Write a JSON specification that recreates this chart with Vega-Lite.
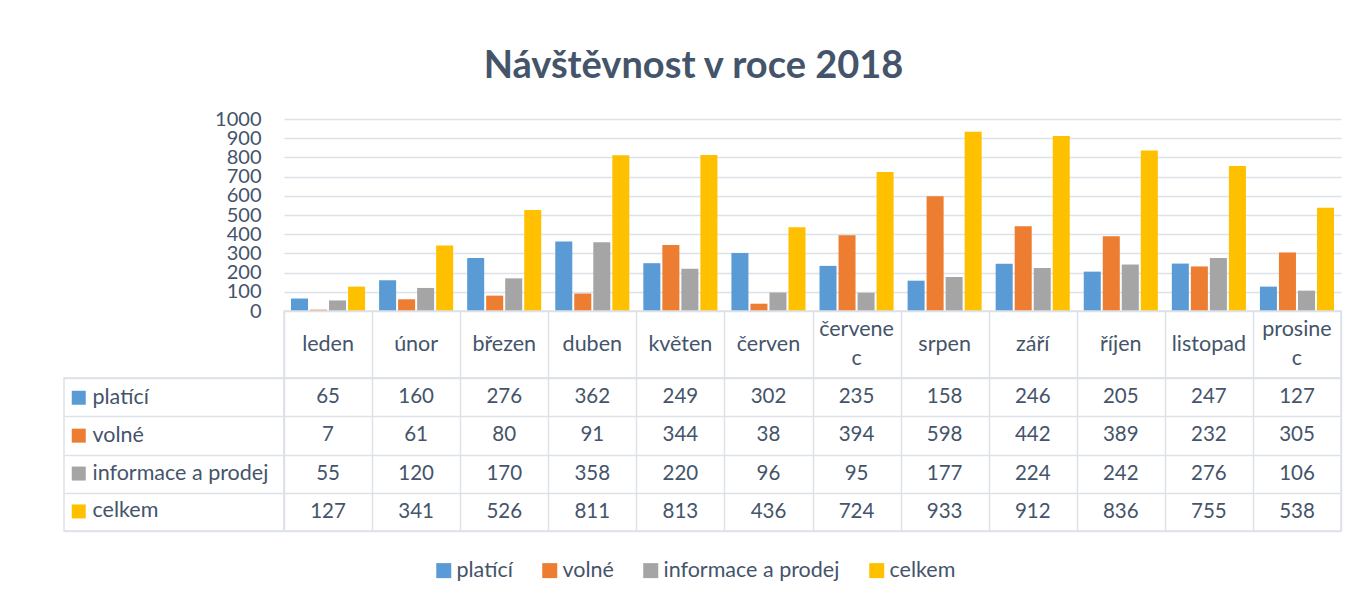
{
  "$schema": "https://vega.github.io/schema/vega-lite/v6.json",
  "padding": {"left": 63, "top": 48, "right": 16, "bottom": 12},
  "title": {"text": "Návštěvnost v roce 2018", "font": "Lato", "fontSize": 38, "fontWeight": "bold", "color": "#44546a", "anchor": "middle", "offset": 23, "dx": -9},
  "config": {"view": {"stroke": null}, "font": "Lato", "text": {"font": "Lato"}},
  "datasets": {
    "bars": [
      {"month": "leden", "series": "platící", "value": 65},
      {"month": "únor", "series": "platící", "value": 160},
      {"month": "březen", "series": "platící", "value": 276},
      {"month": "duben", "series": "platící", "value": 362},
      {"month": "květen", "series": "platící", "value": 249},
      {"month": "červen", "series": "platící", "value": 302},
      {"month": "červenec", "series": "platící", "value": 235},
      {"month": "srpen", "series": "platící", "value": 158},
      {"month": "září", "series": "platící", "value": 246},
      {"month": "říjen", "series": "platící", "value": 205},
      {"month": "listopad", "series": "platící", "value": 247},
      {"month": "prosinec", "series": "platící", "value": 127},
      {"month": "leden", "series": "volné", "value": 7},
      {"month": "únor", "series": "volné", "value": 61},
      {"month": "březen", "series": "volné", "value": 80},
      {"month": "duben", "series": "volné", "value": 91},
      {"month": "květen", "series": "volné", "value": 344},
      {"month": "červen", "series": "volné", "value": 38},
      {"month": "červenec", "series": "volné", "value": 394},
      {"month": "srpen", "series": "volné", "value": 598},
      {"month": "září", "series": "volné", "value": 442},
      {"month": "říjen", "series": "volné", "value": 389},
      {"month": "listopad", "series": "volné", "value": 232},
      {"month": "prosinec", "series": "volné", "value": 305},
      {"month": "leden", "series": "informace a prodej", "value": 55},
      {"month": "únor", "series": "informace a prodej", "value": 120},
      {"month": "březen", "series": "informace a prodej", "value": 170},
      {"month": "duben", "series": "informace a prodej", "value": 358},
      {"month": "květen", "series": "informace a prodej", "value": 220},
      {"month": "červen", "series": "informace a prodej", "value": 96},
      {"month": "červenec", "series": "informace a prodej", "value": 95},
      {"month": "srpen", "series": "informace a prodej", "value": 177},
      {"month": "září", "series": "informace a prodej", "value": 224},
      {"month": "říjen", "series": "informace a prodej", "value": 242},
      {"month": "listopad", "series": "informace a prodej", "value": 276},
      {"month": "prosinec", "series": "informace a prodej", "value": 106},
      {"month": "leden", "series": "celkem", "value": 127},
      {"month": "únor", "series": "celkem", "value": 341},
      {"month": "březen", "series": "celkem", "value": 526},
      {"month": "duben", "series": "celkem", "value": 811},
      {"month": "květen", "series": "celkem", "value": 813},
      {"month": "červen", "series": "celkem", "value": 436},
      {"month": "červenec", "series": "celkem", "value": 724},
      {"month": "srpen", "series": "celkem", "value": 933},
      {"month": "září", "series": "celkem", "value": 912},
      {"month": "říjen", "series": "celkem", "value": 836},
      {"month": "listopad", "series": "celkem", "value": 755},
      {"month": "prosinec", "series": "celkem", "value": 538}
    ],
    "months": [
      {"month": "leden", "header": "leden"},
      {"month": "únor", "header": "únor"},
      {"month": "březen", "header": "březen"},
      {"month": "duben", "header": "duben"},
      {"month": "květen", "header": "květen"},
      {"month": "červen", "header": "červen"},
      {"month": "červenec", "header": "červene\nc"},
      {"month": "srpen", "header": "srpen"},
      {"month": "září", "header": "září"},
      {"month": "říjen", "header": "říjen"},
      {"month": "listopad", "header": "listopad"},
      {"month": "prosinec", "header": "prosine\nc"}
    ],
    "series": [
      {"series": "platící"},
      {"series": "volné"},
      {"series": "informace a prodej"},
      {"series": "celkem"}
    ]
  },
  "columns": 2,
  "spacing": 0,
  "bounds": "flush",
  "align": "each",
  "resolve": {"scale": {"x": "independent", "y": "independent", "color": "independent"}, "legend": {"color": "independent"}},
  "concat": [
    {
      "width": 220, "height": 192,
      "data": {"values": [{}]},
      "mark": {"type": "point", "opacity": 0},
      "encoding": {}
    },
    {
      "width": 1057, "height": 192,
      "data": {"name": "bars"},
      "mark": {"type": "bar"},
      "encoding": {
        "x": {"field": "month", "type": "nominal", "sort": ["leden", "únor", "březen", "duben", "květen", "červen", "červenec", "srpen", "září", "říjen", "listopad", "prosinec"], "scale": {"paddingInner": 0.159, "paddingOuter": 0.0795}, "axis": null},
        "xOffset": {"field": "series", "type": "nominal", "sort": ["platící", "volné", "informace a prodej", "celkem"], "scale": {"paddingInner": 0.105, "paddingOuter": 0}},
        "y": {"field": "value", "type": "quantitative", "scale": {"domain": [0, 1000], "nice": false},
          "axis": {"values": [0, 100, 200, 300, 400, 500, 600, 700, 800, 900, 1000], "format": "d", "labelOverlap": false, "title": null, "domain": false, "ticks": false, "grid": true, "gridColor": "#dde1e8", "gridWidth": 1.5, "labelFont": "Lato", "labelFontSize": 20, "labelColor": "#44546a", "labelPadding": 23}},
        "color": {"field": "series", "type": "nominal",
          "scale": {"domain": ["platící", "volné", "informace a prodej", "celkem"], "range": ["#5b9bd5", "#ed7d31", "#a5a5a5", "#ffc000"]},
          "legend": {"orient": "none", "legendX": 149, "legendY": 440.5, "direction": "horizontal", "title": null, "symbolType": "square", "symbolSize": 225, "symbolStrokeWidth": 0, "symbolOpacity": 1, "labelFont": "Lato", "labelFontSize": 21.5, "labelColor": "#44546a", "labelOffset": 2, "labelLimit": 300, "columnPadding": 26, "padding": 0}}
      }
    },
    {
      "width": 220, "height": 67,
      "data": {"values": [{}]},
      "mark": {"type": "point", "opacity": 0},
      "encoding": {}
    },
    {
      "width": 1057, "height": 67,
      "view": {"stroke": "#dde1e8", "strokeWidth": 1.5},
      "data": {"name": "months"},
      "encoding": {
        "x": {"field": "month", "type": "nominal", "sort": ["leden", "únor", "březen", "duben", "květen", "červen", "červenec", "srpen", "září", "říjen", "listopad", "prosinec"], "scale": {"paddingInner": 0, "paddingOuter": 0},
          "axis": {"orient": "top", "title": null, "labels": false, "ticks": false, "domain": false, "grid": true, "tickBand": "extent", "gridColor": "#dde1e8", "gridWidth": 1.5}},
        "text": {"field": "header", "type": "nominal"}
      },
      "layer": [
        {
          "transform": [{"filter": "indexof(datum.header, '\\n') < 0"}],
          "mark": {"type": "text", "font": "Lato", "fontSize": 21.5, "color": "#44546a", "align": "center", "baseline": "middle"}
        },
        {
          "transform": [{"filter": "indexof(datum.header, '\\n') >= 0"}],
          "mark": {"type": "text", "font": "Lato", "fontSize": 21.5, "color": "#44546a", "align": "center", "baseline": "middle", "lineBreak": "\n", "lineHeight": 29, "dy": -14.5}
        }
      ]
    },
    {
      "width": 220, "height": 153,
      "view": {"stroke": "#dde1e8", "strokeWidth": 1.5},
      "data": {"name": "series"},
      "mark": {"type": "square", "opacity": 0},
      "encoding": {
        "y": {"field": "series", "type": "nominal", "sort": ["platící", "volné", "informace a prodej", "celkem"], "scale": {"paddingInner": 0, "paddingOuter": 0},
          "axis": {"title": null, "labels": false, "ticks": false, "domain": false, "grid": true, "tickBand": "extent", "gridColor": "#dde1e8", "gridWidth": 1.5}},
        "color": {"field": "series", "type": "nominal",
          "scale": {"domain": ["platící", "volné", "informace a prodej", "celkem"], "range": ["#5b9bd5", "#ed7d31", "#a5a5a5", "#ffc000"]},
          "legend": {"orient": "none", "legendX": 4, "legendY": 9, "direction": "vertical", "title": null, "symbolType": "square", "symbolSize": 196, "symbolStrokeWidth": 0, "symbolOpacity": 1, "labelFont": "Lato", "labelFontSize": 21.5, "labelColor": "#44546a", "labelOffset": 3, "labelLimit": 300, "rowPadding": 14.9, "padding": 0}}
      }
    },
    {
      "width": 1057, "height": 153,
      "view": {"stroke": "#dde1e8", "strokeWidth": 1.5},
      "data": {"name": "bars"},
      "mark": {"type": "text", "font": "Lato", "fontSize": 20.5, "color": "#44546a", "align": "center", "baseline": "middle"},
      "encoding": {
        "x": {"field": "month", "type": "nominal", "sort": ["leden", "únor", "březen", "duben", "květen", "červen", "červenec", "srpen", "září", "říjen", "listopad", "prosinec"], "scale": {"paddingInner": 0, "paddingOuter": 0},
          "axis": {"orient": "top", "title": null, "labels": false, "ticks": false, "domain": false, "grid": true, "tickBand": "extent", "gridColor": "#dde1e8", "gridWidth": 1.5}},
        "y": {"field": "series", "type": "nominal", "sort": ["platící", "volné", "informace a prodej", "celkem"], "scale": {"paddingInner": 0, "paddingOuter": 0},
          "axis": {"title": null, "labels": false, "ticks": false, "domain": false, "grid": true, "tickBand": "extent", "gridColor": "#dde1e8", "gridWidth": 1.5}},
        "text": {"field": "value", "type": "quantitative"}
      }
    }
  ]
}
